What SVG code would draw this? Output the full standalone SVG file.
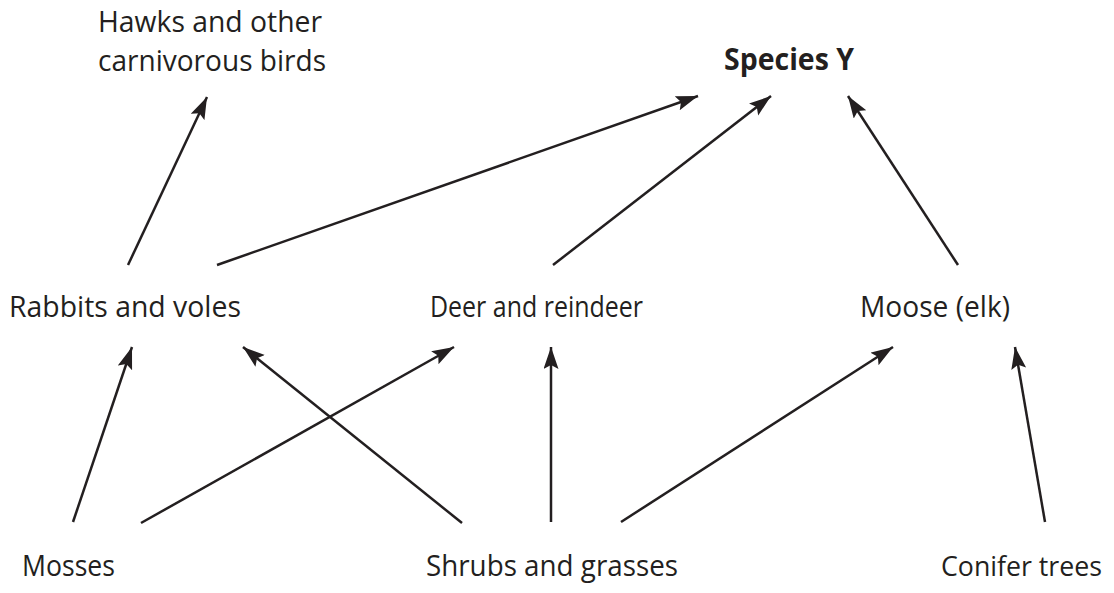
<svg xmlns="http://www.w3.org/2000/svg" width="1114" height="593" viewBox="0 0 1114 593">
<style>
text{font-family:"Open Sans","Noto Sans","Liberation Sans",sans-serif;font-size:29.5px;fill:#231f20}
.b{font-weight:bold}
.c line{stroke:#231f20;stroke-width:2.5;marker-end:url(#ah)}
</style>
<defs>
<marker id="ah" markerUnits="userSpaceOnUse" markerWidth="24" markerHeight="16" refX="22" refY="7.5" orient="auto" viewBox="0 0 24 16">
<path d="M0,0 L22,7.5 L0,15 L4,7.5 z" fill="#231f20"/>
</marker>
</defs>
<rect width="1114" height="593" fill="#fff"/>
<g id="hawks"><text x="98" y="32" textLength="224" lengthAdjust="spacingAndGlyphs">Hawks and other</text><text x="98" y="71" textLength="228" lengthAdjust="spacingAndGlyphs">carnivorous birds</text></g>
<g id="speciesY"><text class="b" x="724" y="70" textLength="130" lengthAdjust="spacingAndGlyphs">Species Y</text></g>
<g id="rabbits"><text x="9" y="317" textLength="232" lengthAdjust="spacingAndGlyphs">Rabbits and voles</text></g>
<g id="deer"><text x="430" y="317" textLength="213" lengthAdjust="spacingAndGlyphs">Deer and reindeer</text></g>
<g id="moose"><text x="860" y="317" textLength="150" lengthAdjust="spacingAndGlyphs">Moose (elk)</text></g>
<g id="mosses"><text x="22" y="576" textLength="93" lengthAdjust="spacingAndGlyphs">Mosses</text></g>
<g id="shrubs"><text x="426" y="576" textLength="252" lengthAdjust="spacingAndGlyphs">Shrubs and grasses</text></g>
<g id="conifer"><text x="941" y="576" style="font-size:27px" textLength="161" lengthAdjust="spacingAndGlyphs">Conifer trees</text></g>
<g id="connectors" class="c">
<line x1="128" y1="265" x2="207" y2="97"/>
<line x1="217" y1="265" x2="698" y2="96"/>
<line x1="553" y1="265" x2="771" y2="96"/>
<line x1="958" y1="265" x2="848" y2="96"/>
<line x1="73" y1="522" x2="132" y2="347"/>
<line x1="141" y1="523" x2="454" y2="347"/>
<line x1="462" y1="523" x2="243" y2="347"/>
<line x1="551" y1="522" x2="551" y2="347"/>
<line x1="621" y1="522" x2="893" y2="347"/>
<line x1="1045" y1="522" x2="1015" y2="347"/>
</g>
</svg>
